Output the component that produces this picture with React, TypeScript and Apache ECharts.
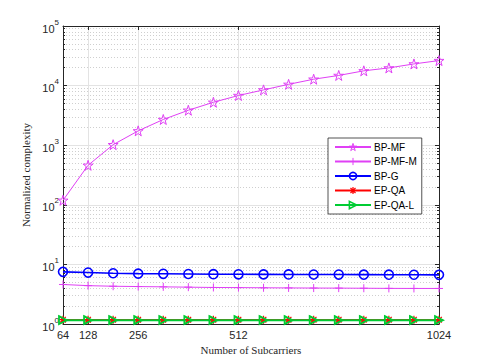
import React, { useEffect, useRef } from 'react';
import * as echarts from 'echarts';

const subcarriers = [64, 128, 192, 256, 320, 384, 448, 512, 576, 640, 704, 768, 832, 896, 960, 1024];
const xTickLabels = [64, 128, 256, 512, 1024];
const bpMF = [119, 460, 1020, 1740, 2700, 3860, 5250, 6820, 8470, 10500, 12800, 14800, 17700, 19800, 23100, 26300];
const bpMFM = [4.6, 4.4, 4.3, 4.25, 4.2, 4.15, 4.1, 4.08, 4.05, 4.03, 4.01, 4.0, 3.98, 3.96, 3.95, 3.95];
const bpG = [7.5, 7.3, 7.1, 7.0, 6.95, 6.9, 6.85, 6.82, 6.8, 6.78, 6.76, 6.75, 6.73, 6.72, 6.7, 6.68];
const epQA = [1.18, 1.18, 1.18, 1.18, 1.18, 1.18, 1.18, 1.18, 1.18, 1.18, 1.18, 1.18, 1.18, 1.18, 1.18, 1.18];
const epQAL = [1.16, 1.16, 1.16, 1.16, 1.16, 1.16, 1.16, 1.16, 1.16, 1.16, 1.16, 1.16, 1.16, 1.16, 1.16, 1.16];
const yMajor = [1, 10, 100, 1000, 10000, 100000];
const yMinor = [
  2, 3, 4, 5, 6, 7, 8, 9,
  20, 30, 40, 50, 60, 70, 80, 90,
  200, 300, 400, 500, 600, 700, 800, 900,
  2000, 3000, 4000, 5000, 6000, 7000, 8000, 9000,
  20000, 30000, 40000, 50000, 60000, 70000, 80000, 90000,
];

const STAR = 'path://M10 0 L12.245 6.91 L19.511 6.91 L13.633 11.18 L15.878 18.09 L10 13.82 L4.122 18.09 L6.367 11.18 L0.489 6.91 L7.755 6.91 Z';
const PLUS = 'path://M5 0 L5 10 M0 5 L10 5';
const ASTER = 'path://M5 0 L5 10 M0 5 L10 5 M1.5 1.5 L8.5 8.5 M8.5 1.5 L1.5 8.5';
const TRI = 'path://M0 0 L10 5 L0 10 Z';

const MAG = '#E040F5';
const BLUE = '#0000FF';
const RED = '#FF0000';
const GREEN = '#00CC33';
const AX = '#262626';
const CLEAR = 'rgba(255,255,255,0)';

function mk(name: string, data: number[], color: string, symbol: string, size: number, lw: number, bw: number) {
  return {
    name,
    type: 'line',
    data: subcarriers.map((x, i) => [x, data[i]]),
    symbol,
    symbolSize: size,
    color,
    lineStyle: { color, width: lw },
    itemStyle: { color: CLEAR, borderColor: color, borderWidth: bw },
    xAxisIndex: 0,
    yAxisIndex: 0,
  };
}

const legendItem = (name: string, color: string, bw: number) => ({
  name,
  itemStyle: { color: CLEAR, borderColor: color, borderWidth: bw },
});

export default function App() {
  const ref = useRef<HTMLDivElement>(null);
  useEffect(() => {
    const chart = echarts.init(ref.current!, null, { renderer: 'svg' });
    const grid = { left: 63, right: 46, top: 26, bottom: 39 };
    const yBase = {
      type: 'log',
      logBase: 10,
      min: 1,
      max: 100000,
      gridIndex: 0,
    };
    chart.setOption({
      animation: false,
      backgroundColor: '#fff',
      grid,
      legend: {
        orient: 'vertical',
        left: 328,
        top: 138,
        backgroundColor: '#fff',
        borderColor: AX,
        borderWidth: 0.8,
        borderRadius: 0,
        padding: [4, 5, 4, 6],
        itemWidth: 36,
        itemHeight: 9,
        itemGap: 4.5,
        textStyle: { fontFamily: 'Liberation Sans', fontSize: 10, color: '#000', padding: [0, 0, 0, -2] },
        data: [
          legendItem('BP-MF', MAG, 1),
          legendItem('BP-MF-M', MAG, 1),
          legendItem('BP-G', BLUE, 1.6),
          legendItem('EP-QA', RED, 1.2),
          legendItem('EP-QA-L', GREEN, 1.6),
        ],
      },
      xAxis: [
        {
          type: 'value',
          min: 64,
          max: 1024,
          position: 'bottom',
          name: 'Number of Subcarriers',
          nameLocation: 'middle',
          nameGap: 20,
          nameTextStyle: { fontFamily: 'Liberation Serif', fontSize: 11, color: AX },
          axisLine: { show: true, onZero: false, lineStyle: { color: AX, width: 1 } },
          axisTick: { show: true, inside: true, length: 4, customValues: xTickLabels, lineStyle: { color: AX } },
          axisLabel: {
            customValues: xTickLabels,
            formatter: (v: number) => String(v),
            fontFamily: 'Liberation Sans',
            fontSize: 11,
            color: AX,
            margin: 5,
          },
          splitLine: { show: true, lineStyle: { color: '#E3E3E3', width: 1 } },
        },
        {
          type: 'value',
          min: 64,
          max: 1024,
          position: 'top',
          axisLine: { show: true, onZero: false, lineStyle: { color: AX, width: 1 } },
          axisTick: { show: true, inside: true, length: 4, customValues: xTickLabels, lineStyle: { color: AX } },
          axisLabel: { show: false },
          splitLine: { show: false },
        },
      ],
      yAxis: [
        {
          ...yBase,
          position: 'left',
          name: 'Normalized complexity',
          nameLocation: 'middle',
          nameGap: 28,
          nameTextStyle: { fontFamily: 'Liberation Serif', fontSize: 11, color: AX },
          axisLine: { show: true, onZero: false, lineStyle: { color: AX, width: 1 } },
          axisTick: { show: true, inside: true, length: 4, customValues: yMajor, lineStyle: { color: AX } },
          axisLabel: {
            customValues: yMajor,
            margin: 4,
            formatter: (v: number) => `{b|10}{e|${Math.round(Math.log10(v))}}`,
            rich: {
              b: { fontFamily: 'Liberation Sans', fontSize: 11, color: AX, verticalAlign: 'bottom' },
              e: { fontFamily: 'Liberation Sans', fontSize: 8, color: AX, verticalAlign: 'top', padding: [0, 0, 8, 0] },
            },
          },
          splitLine: { show: true, lineStyle: { color: '#E3E3E3', width: 1 } },
          minorTick: { show: false },
        },
        {
          ...yBase,
          position: 'left',
          axisLine: { show: false },
          axisTick: { show: true, inside: true, length: 2, customValues: yMinor, lineStyle: { color: AX } },
          axisLabel: { show: false },
          splitLine: { show: true, lineStyle: { color: '#CFCFCF', width: 1, type: [1, 2] } },
        },
        {
          ...yBase,
          position: 'right',
          axisLine: { show: true, onZero: false, lineStyle: { color: AX, width: 1 } },
          axisTick: { show: true, inside: true, length: 4, customValues: yMajor, lineStyle: { color: AX } },
          axisLabel: { show: false },
          splitLine: { show: false },
        },
        {
          ...yBase,
          position: 'right',
          axisLine: { show: false },
          axisTick: { show: true, inside: true, length: 2, customValues: yMinor, lineStyle: { color: AX } },
          axisLabel: { show: false },
          splitLine: { show: false },
        },
      ],
      series: [
        mk('BP-MF', bpMF, MAG, STAR, 10, 1, 1),
        mk('BP-MF-M', bpMFM, MAG, PLUS, 8, 1, 1),
        mk('BP-G', bpG, BLUE, 'circle', 9, 1.6, 1.6),
        mk('EP-QA', epQA, RED, ASTER, 8, 1.5, 1.2),
        mk('EP-QA-L', epQAL, GREEN, TRI, 8, 2, 1.8),
      ],
    });
    return () => chart.dispose();
  }, []);
  return <div ref={ref} style={{ position: 'fixed', left: 0, top: 0, width: 485, height: 363 }} />;
}
